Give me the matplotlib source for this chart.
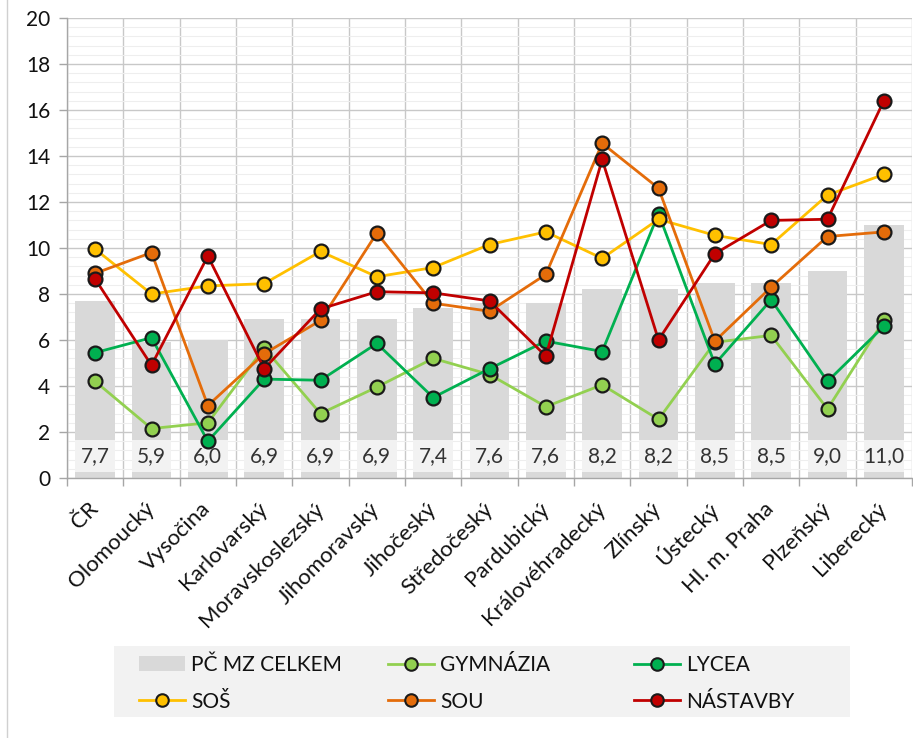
import numpy as np
import matplotlib
matplotlib.use("Agg")
import matplotlib.pyplot as plt
from matplotlib.lines import Line2D
from matplotlib.patches import Patch, Rectangle
from matplotlib.ticker import MultipleLocator, FixedLocator

plt.rcParams['font.family'] = ['Lato', 'DejaVu Sans']

# =========================================================
# DATA
# =========================================================
regions = ['ČR', 'Olomoucký', 'Vysočina', 'Karlovarský', 'Moravskoslezský',
           'Jihomoravský', 'Jihočeský', 'Středočeský', 'Pardubický',
           'Královéhradecký', 'Zlínský', 'Ústecký', 'Hl. m. Praha',
           'Plzeňský', 'Liberecký']

pc_mz_celkem = [7.7, 5.9, 6.0, 6.9, 6.9, 6.9, 7.4, 7.6, 7.6, 8.2, 8.2, 8.5, 8.5, 9.0, 11.0]
gymnazia = [4.2, 2.15, 2.4, 5.65, 2.8, 3.95, 5.2, 4.5, 3.1, 4.05, 2.55, 5.9, 6.2, 3.0, 6.85]
lycea = [5.45, 6.1, 1.6, 4.3, 4.25, 5.85, 3.5, 4.75, 5.95, 5.5, 11.5, 4.95, 7.75, 4.2, 6.6]
sos = [9.95, 8.0, 8.35, 8.45, 9.85, 8.75, 9.15, 10.15, 10.7, 9.55, 11.25, 10.55, 10.15, 12.3, 13.2]
sou = [8.9, 9.8, 3.15, 5.4, 6.85, 10.65, 7.6, 7.25, 8.85, 14.55, 12.6, 5.95, 8.3, 10.5, 10.7]
nastavby = [8.65, 4.9, 9.65, 4.75, 7.35, 8.1, 8.05, 7.7, 5.3, 13.85, 6.0, 9.75, 11.2, 11.25, 16.4]

series = [
    ('GYMNÁZIA', gymnazia, '#92d050'),
    ('LYCEA', lycea, '#00b050'),
    ('SOŠ', sos, '#ffc000'),
    ('SOU', sou, '#e46c0a'),
    ('NÁSTAVBY', nastavby, '#c00000'),
]

# =========================================================
# FIGURE
# =========================================================
W, H = 913, 738
fig = plt.figure(figsize=(W / 100, H / 100), dpi=100)
ax = fig.add_axes([67 / W, 1 - 478 / H, 845 / W, 460 / H])

x = np.arange(len(regions))
bar_w = 0.7
ax.bar(x, pc_mz_celkem, width=bar_w, color='#d9d9d9', zorder=2)

# value labels in light boxes at the bar base
ax.bar(x, [1.38] * len(x), bottom=0.27, width=bar_w, color='#f2f2f2', zorder=2.5)
for xi, v in zip(x, pc_mz_celkem):
    ax.text(xi, 0.95, f"{v:.1f}".replace('.', ','), ha='center', va='center',
            fontsize=15, color='#333333', zorder=3)

for name, vals, col in series:
    ax.plot(x, vals, color=col, lw=2, marker='o', ms=10, mfc=col,
            mec='#1a1a1a', mew=1.6, zorder=4)

ax.set_xlim(-0.5, len(regions) - 0.5)
ax.set_ylim(0, 20)
ax.yaxis.set_major_locator(MultipleLocator(2))
ax.yaxis.set_minor_locator(MultipleLocator(0.4))
ax.set_xticks(x)
ax.set_xticklabels(regions, rotation=45, ha='right', va='center',
                   rotation_mode='anchor', fontsize=16, color='#111111')
ax.xaxis.set_minor_locator(FixedLocator(np.arange(-0.5, len(regions), 1.0)))
ax.tick_params(axis='x', which='major', length=0, pad=20)
ax.tick_params(axis='x', which='minor', length=6, color='#a6a6a6', width=1)
ax.tick_params(axis='y', which='major', length=6, color='#a6a6a6', width=1,
               labelsize=15, labelcolor='#111111', pad=6)
ax.tick_params(axis='y', which='minor', length=0)

ax.grid(axis='y', which='major', color='#c8c8c8', lw=1, zorder=0)
ax.grid(axis='y', which='minor', color='#eeeeee', lw=0.8, zorder=0)
ax.grid(axis='x', which='minor', color='#c8c8c8', lw=1, zorder=0)
ax.set_axisbelow(True)

for s in ['top', 'right']:
    ax.spines[s].set_visible(False)
for s in ['left', 'bottom']:
    ax.spines[s].set_color('#a6a6a6')
    ax.spines[s].set_linewidth(1)

# outer chart border on the left
fig.add_artist(Line2D([7 / W, 7 / W], [0, 1], transform=fig.transFigure,
                      color='#d0d0d0', lw=1))

# =========================================================
# LEGEND (three columns on a light panel)
# =========================================================
fig.patches.append(Rectangle((114 / W, 1 - 717 / H), 736 / W, 71 / H,
                             transform=fig.transFigure, facecolor='#f2f2f2',
                             edgecolor='none', zorder=0))

def line_handle(col):
    return Line2D([], [], color=col, lw=2, marker='o', ms=9, mfc=col,
                  mec='#1a1a1a', mew=1.5)

cols = {name: col for name, _, col in series}
legend_cols = [
    (139, [Patch(facecolor='#d9d9d9'), line_handle(cols['SOŠ'])], ['PČ MZ CELKEM', 'SOŠ']),
    (388, [line_handle(cols['GYMNÁZIA']), line_handle(cols['SOU'])], ['GYMNÁZIA', 'SOU']),
    (634, [line_handle(cols['LYCEA']), line_handle(cols['NÁSTAVBY'])], ['LYCEA', 'NÁSTAVBY']),
]
for left, handles, labels in legend_cols:
    fig.legend(handles, labels, loc='upper left',
               bbox_to_anchor=(left / W, 1 - 655 / H), bbox_transform=fig.transFigure,
               frameon=False, fontsize=15, handlelength=2.2, handletextpad=0.3,
               labelspacing=0.8, borderpad=0, borderaxespad=0, numpoints=1,
               labelcolor='#111111')

fig.savefig('out.png', dpi=100)
